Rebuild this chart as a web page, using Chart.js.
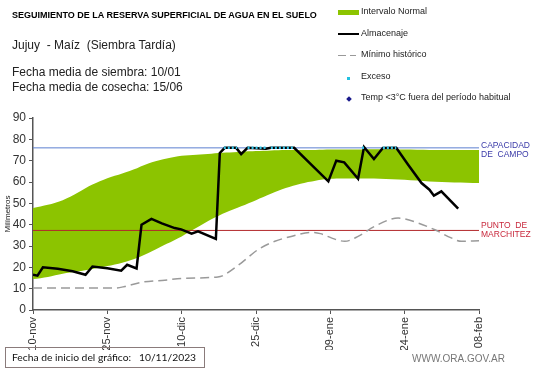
<!DOCTYPE html>
<html>
<head>
<meta charset="utf-8">
<script src="https://cdn.jsdelivr.net/npm/chart.js@4"></script>
<style>
  body { margin: 0; background: #fff; font-family: "Liberation Sans", Arial, sans-serif; }
  #wrap { position: relative; width: 541px; height: 368px; overflow: hidden; }
  #chart { position: absolute; left: 0; top: 0; }
  .txt { position: absolute; white-space: nowrap; color: #000; }
  .leg { position: absolute; font-size: 9px; color: #222; white-space: nowrap; }
  .sym { position: absolute; }
</style>
</head>
<body>
<div id="wrap">
  <canvas id="chart" width="541" height="368"></canvas>
  <div class="txt" style="left:12px;top:10px;font-size:9px;font-weight:bold;">SEGUIMIENTO DE LA RESERVA SUPERFICIAL DE AGUA EN EL SUELO</div>
  <div class="txt" style="left:12px;top:38px;font-size:12px;color:#222;">Jujuy&nbsp; - Maíz&nbsp; (Siembra Tardía)</div>
  <div class="txt" style="left:12px;top:65px;font-size:12px;color:#222;">Fecha media de siembra: 10/01</div>
  <div class="txt" style="left:12px;top:80px;font-size:12px;color:#222;">Fecha media de cosecha: 15/06</div>

  <div class="sym" style="left:338px;top:10px;width:21px;height:5px;background:#8cc400;"></div>
  <div class="leg" style="left:361px;top:6px;">Intervalo Normal</div>
  <div class="sym" style="left:338px;top:33px;width:21px;height:2px;background:#000;"></div>
  <div class="leg" style="left:361px;top:28px;">Almacenaje</div>
  <div class="sym" style="left:338px;top:55px;width:8px;height:1px;background:#999;"></div>
  <div class="sym" style="left:350px;top:55px;width:6px;height:1px;background:#999;"></div>
  <div class="leg" style="left:361px;top:49px;">Mínimo histórico</div>
  <div class="sym" style="left:347px;top:77px;width:3px;height:3px;background:#22c0e0;"></div>
  <div class="leg" style="left:361px;top:71px;">Exceso</div>
  <div class="sym" style="left:347px;top:97px;width:4px;height:4px;background:#1a1a8c;transform:rotate(45deg);"></div>
  <div class="leg" style="left:361px;top:92px;">Temp &lt;3°C fuera del período habitual</div>

  <div class="txt" style="left:5px;top:347px;width:198px;height:19px;border:1px solid #8a7b7b;"></div>
  <div class="txt" style="left:12px;top:351px;font-size:10.3px;font-family:Lato,'Open Sans',sans-serif;color:#111;">Fecha de inicio del gráfico:</div>
  <div class="txt" style="left:139px;top:351px;font-size:10.3px;font-family:Lato,'Open Sans',sans-serif;color:#111;">10/11/2023</div>
  <div class="txt" style="left:412px;top:353px;font-size:10px;color:#777;">WWW.ORA.GOV.AR</div>
</div>
<script>
// Fechas de los ticks (cada 15 dias desde el 10/11/2023)
const tickLabels = ['10-nov', '25-nov', '10-dic', '25-dic', '09-ene', '24-ene', '08-feb'];

// Intervalo normal (banda verde)
const bandDays = [0, 3, 6, 9, 12, 15, 18, 21, 24, 27, 30, 33, 36, 39, 42, 45, 48, 51, 54, 57, 60, 65, 70, 75, 80, 85, 90];
const bandUpper = [47.8, 49.3, 51.5, 55, 58.8, 61.8, 64, 66.5, 69.2, 71, 72.3, 72.8, 73.3, 73.8, 74.2, 74.5, 74.8, 75, 75, 75, 75.2, 75.2, 75.3, 75.2, 75, 75, 75];
const bandLower = [14.5, 15.5, 17, 18, 19.2, 20.6, 22.2, 24.4, 27.5, 31, 34.5, 38.5, 42.5, 45.8, 48.6, 51.5, 54.5, 57.2, 59.2, 60.6, 61.5, 61.6, 61.5, 61, 60.2, 59.8, 59.5];

// Almacenaje
const almDays = [0, 0.9, 2, 5, 8, 10.6, 12, 15, 17.8, 19, 20.9, 21.9, 23.9, 26, 28.6, 29.9, 32, 33.3, 36.9, 37.7, 38.7, 41, 42, 43.3, 47, 48, 52.7, 56, 59.6, 61.2, 62.8, 65.6, 66.8, 68.8, 70.6, 73.3, 75.7, 78.4, 80, 80.9, 82.4, 85.8];
const almVals = [16.5, 16.1, 20, 19.3, 18.2, 16.5, 20.4, 19.6, 18.4, 21.2, 19.5, 40, 42.7, 40.6, 38.4, 37.8, 35.8, 36.9, 33.3, 73.6, 76, 76, 73.1, 76, 75.6, 76, 76, 68.5, 60.3, 70, 69.2, 61.5, 76.4, 70.8, 75.9, 76, 68.1, 59.5, 56.4, 53.6, 55.6, 47.5];

// Exceso (tramos a capacidad de campo)
const excDays = [38.5, 41.2, 41.3, 43.3, 47, 47.1, 48, 52.6, 52.7, 66.4, 67.2, 67.3, 70.6, 73.3];
const excVals = [76, 76, null, 76, 76, null, 76, 76, null, 76, 76, null, 76, 76];

// Minimo historico
const minDays = [0, 16.5, 18.5, 21.9, 26.6, 30, 37.3, 38.2, 42, 45.4, 48.8, 52.1, 56.2, 58, 60.2, 62.9, 65.6, 68.9, 73.7, 77.7, 81.1, 84.4, 86.4, 90];
const minVals = [10.3, 10.3, 11, 13, 14, 14.8, 15.5, 16, 22, 28.3, 32.2, 34.5, 36.4, 35.8, 33.8, 32.2, 34.5, 39.2, 43.1, 40.8, 37.6, 33.8, 32.2, 32.5];

const capacidadCampo = 76;
const puntoMarchitez = 37.3;

function pts(xs, ys) {
    return xs.map((x, i) => ({ x: x, y: ys[i] }));
}

// etiquetas a la derecha de las lineas de referencia
const sideLabels = {
    id: 'sideLabels',
    afterDraw(chart) {
        const c = chart.ctx;
        const y = chart.scales.y;
        const x0 = chart.chartArea.right + 2;
        c.save();
        c.font = '8.5px "Liberation Sans", Arial';
        c.textBaseline = 'middle';
        c.fillStyle = '#3a3aa8';
        c.fillText('CAPACIDAD', x0, y.getPixelForValue(capacidadCampo) - 2);
        c.fillText('DE  CAMPO', x0, y.getPixelForValue(capacidadCampo) + 7);
        c.fillStyle = '#c8283c';
        c.fillText('PUNTO  DE', x0, y.getPixelForValue(puntoMarchitez) - 5);
        c.fillText('MARCHITEZ', x0, y.getPixelForValue(puntoMarchitez) + 4);
        c.restore();
    }
};

const ctx = document.getElementById('chart').getContext('2d');
new Chart(ctx, {
    type: 'line',
    data: {
        datasets: [
            { label: 'lower', data: pts(bandDays, bandLower), borderWidth: 0, pointRadius: 0, fill: false, tension: 0.3, order: 10 },
            { label: 'Intervalo Normal', data: pts(bandDays, bandUpper), borderWidth: 0, pointRadius: 0, fill: '-1', backgroundColor: '#8cc400', tension: 0.3, order: 9 },
            { label: 'Capacidad', data: pts([0, 90], [capacidadCampo, capacidadCampo]), borderColor: '#5b7fd0', borderWidth: 1, pointRadius: 0, order: 5 },
            { label: 'Marchitez', data: pts([0, 90], [puntoMarchitez, puntoMarchitez]), borderColor: '#b3282b', borderWidth: 1, pointRadius: 0, order: 5 },
            { label: 'Mínimo histórico', data: pts(minDays, minVals), borderColor: '#9a9a9a', borderWidth: 1.5, borderDash: [9, 5], pointRadius: 0, cubicInterpolationMode: 'monotone', order: 4 },
            { label: 'Almacenaje', data: pts(almDays, almVals), borderColor: '#000', borderWidth: 2.5, pointRadius: 0, tension: 0, order: 2 },
            { label: 'Exceso', data: pts(excDays, excVals), borderColor: '#33c4e8', borderWidth: 2.5, borderDash: [2, 2], pointRadius: 0, spanGaps: false, order: 1 }
        ]
    },
    options: {
        responsive: false,
        animation: false,
        layout: { padding: { left: 3, top: 118, right: 62, bottom: 18 } },
        plugins: { legend: { display: false }, tooltip: { enabled: false } },
        scales: {
            x: {
                type: 'linear',
                min: 0,
                max: 90,
                afterFit: s => { s.height = 40; },
                ticks: {
                    stepSize: 15,
                    minRotation: 90,
                    maxRotation: 90,
                    color: '#333',
                    font: { family: '"Liberation Sans", Arial', size: 11 },
                    callback: v => tickLabels[Math.round(v / 15)]
                },
                grid: { drawOnChartArea: false, drawTicks: true, tickLength: 4, color: '#555' },
                border: { color: '#555', width: 1.5 }
            },
            y: {
                min: 0,
                max: 90,
                afterFit: s => { s.width = 30; },
                ticks: {
                    stepSize: 10,
                    padding: 3,
                    color: '#333',
                    font: { family: '"Liberation Sans", Arial', size: 12 }
                },
                title: { display: true, text: 'Milímetros', color: '#222', padding: 0, font: { family: '"Liberation Sans", Arial', size: 8 } },
                grid: { drawOnChartArea: false, drawTicks: true, tickLength: 4, color: '#555' },
                border: { color: '#555', width: 1.5 }
            }
        }
    },
    plugins: [sideLabels]
});
</script>
</body>
</html>
